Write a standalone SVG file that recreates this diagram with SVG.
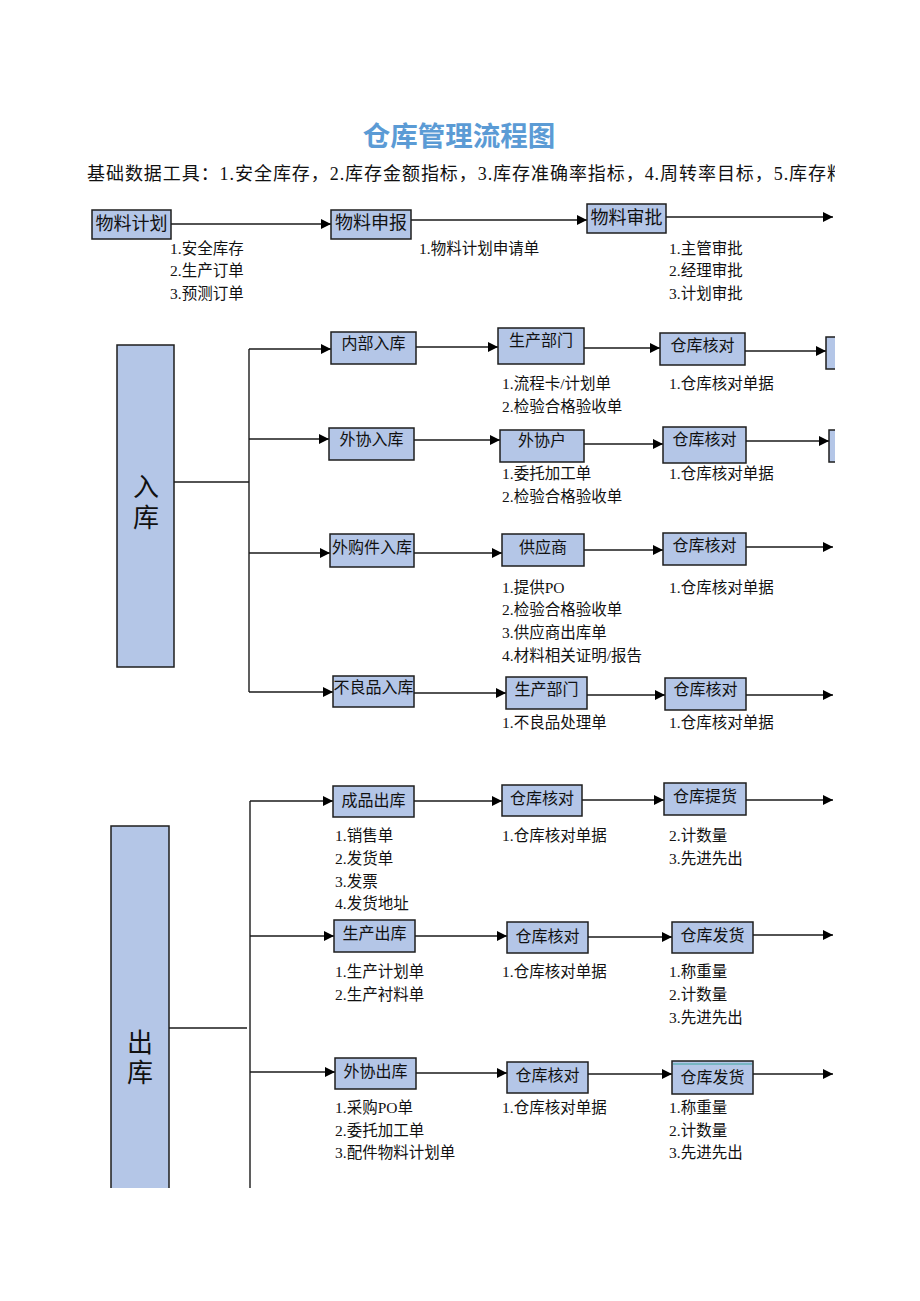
<svg xmlns="http://www.w3.org/2000/svg" width="920" height="1301" viewBox="0 0 920 1301">
<defs>
<style>
.bx{fill:#b4c6e7;stroke:#1e1e1e;stroke-width:1.5}
.bt{font-family:"Liberation Serif","Noto Sans CJK SC",serif;font-size:16px;fill:#111;text-anchor:middle;dominant-baseline:central}
.bt18{font-size:18px}
.lb{font-family:"Liberation Serif","Noto Sans CJK SC",serif;font-size:15.5px;fill:#111;dominant-baseline:central}
.ln{stroke:#1a1a1a;stroke-width:1.4;fill:none}
.ar{stroke:#1a1a1a;stroke-width:1.4;fill:none;marker-end:url(#ah)}
.big{font-family:"Liberation Serif","Noto Sans CJK SC",serif;font-size:26px;fill:#111;text-anchor:middle;dominant-baseline:central}
</style>
<marker id="ah" viewBox="0 0 10 10" refX="10" refY="5" markerWidth="10" markerHeight="10" markerUnits="userSpaceOnUse" orient="auto">
<path d="M0,0 L10,5 L0,10 z" fill="#000"/>
</marker>
<clipPath id="cl"><rect x="0" y="0" width="835" height="1188"/></clipPath>
</defs>
<rect width="920" height="1301" fill="#fff"/>
<g clip-path="url(#cl)">
<text x="459" y="134" font-family="'Noto Sans CJK SC','Noto Sans',sans-serif" font-size="27.5" font-weight="bold" fill="#5b9bd5" text-anchor="middle" dominant-baseline="central">仓库管理流程图</text>
<text x="87" y="174" font-family="'Liberation Serif','Noto Sans CJK SC',serif" font-size="18" fill="#111" dominant-baseline="central" textLength="758" lengthAdjust="spacing">基础数据工具：1.安全库存，2.库存金额指标，3.库存准确率指标，4.周转率目标，5.库存料</text>

<g id="connectors">
<line class="ar" x1="171" y1="224" x2="331" y2="224"/>
<line class="ar" x1="411" y1="220" x2="587" y2="220"/>
<line class="ar" x1="666" y1="217" x2="833" y2="217"/>

<line class="ln" x1="174" y1="482" x2="249" y2="482"/>
<line class="ln" x1="249" y1="349" x2="249" y2="692"/>
<line class="ar" x1="249" y1="349" x2="331" y2="349"/>
<line class="ar" x1="249" y1="439" x2="329" y2="439"/>
<line class="ar" x1="249" y1="553" x2="330" y2="553"/>
<line class="ar" x1="249" y1="692" x2="333" y2="692"/>

<line class="ar" x1="416" y1="347" x2="498" y2="347"/>
<line class="ar" x1="584" y1="348" x2="660" y2="348"/>
<line class="ar" x1="745" y1="351" x2="826" y2="351"/>
<line class="ar" x1="414" y1="440" x2="500" y2="440"/>
<line class="ar" x1="584" y1="444" x2="663" y2="444"/>
<line class="ar" x1="746" y1="441" x2="829" y2="441"/>
<line class="ar" x1="414" y1="553" x2="502" y2="553"/>
<line class="ar" x1="584" y1="550" x2="663" y2="550"/>
<line class="ar" x1="746" y1="547" x2="833" y2="547"/>
<line class="ar" x1="414" y1="693" x2="506" y2="693"/>
<line class="ar" x1="587" y1="695" x2="665" y2="695"/>
<line class="ar" x1="746" y1="695" x2="833" y2="695"/>

<line class="ln" x1="169" y1="1028" x2="247" y2="1028"/>
<line class="ln" x1="250" y1="801" x2="250" y2="1190"/>
<line class="ar" x1="250" y1="801" x2="333" y2="801"/>
<line class="ar" x1="250" y1="936" x2="334" y2="936"/>
<line class="ar" x1="250" y1="1072" x2="335" y2="1072"/>

<line class="ar" x1="414" y1="801" x2="502" y2="801"/>
<line class="ar" x1="582" y1="800" x2="664" y2="800"/>
<line class="ar" x1="746" y1="800" x2="833" y2="800"/>
<line class="ar" x1="415" y1="936" x2="507" y2="936"/>
<line class="ar" x1="588" y1="937" x2="672" y2="937"/>
<line class="ar" x1="753" y1="935" x2="833" y2="935"/>
<line class="ar" x1="416" y1="1073" x2="507" y2="1073"/>
<line class="ar" x1="588" y1="1074" x2="672" y2="1074"/>
<line class="ar" x1="753" y1="1074" x2="833" y2="1074"/>
</g>

<g id="n-plan"><rect class="bx" x="92" y="210" width="79" height="29"/><text class="bt bt18" x="131.5" y="224">物料计划</text></g>
<g id="n-report"><rect class="bx" x="331" y="210" width="80" height="29"/><text class="bt bt18" x="371" y="223">物料申报</text></g>
<g id="n-approve"><rect class="bx" x="587" y="204" width="79" height="29"/><text class="bt bt18" x="626.5" y="218">物料审批</text></g>

<g id="n-in"><rect class="bx" x="117" y="345" width="57" height="322"/><text class="big" x="146" y="487">入</text><text class="big" x="146" y="518">库</text></g>

<g id="n-in1a"><rect class="bx" x="331" y="332" width="85" height="32"/><text class="bt" x="373.5" y="343">内部入库</text></g>
<g id="n-in1b"><rect class="bx" x="498" y="328" width="86" height="36"/><text class="bt" x="541" y="340">生产部门</text></g>
<g id="n-in1c"><rect class="bx" x="660" y="333" width="85" height="32"/><text class="bt" x="702.5" y="345">仓库核对</text></g>
<g id="n-in1d"><rect class="bx" x="826" y="337" width="20" height="32"/></g>

<g id="n-in2a"><rect class="bx" x="329" y="428" width="85" height="32"/><text class="bt" x="371.5" y="439">外协入库</text></g>
<g id="n-in2b"><rect class="bx" x="500" y="430" width="84" height="32"/><text class="bt" x="542" y="440">外协户</text></g>
<g id="n-in2c"><rect class="bx" x="663" y="427" width="83" height="36"/><text class="bt" x="704.5" y="439">仓库核对</text></g>
<g id="n-in2d"><rect class="bx" x="829" y="430" width="20" height="32"/></g>

<g id="n-in3a"><rect class="bx" x="330" y="534" width="84" height="33"/><text class="bt" x="372" y="547">外购件入库</text></g>
<g id="n-in3b"><rect class="bx" x="502" y="534" width="82" height="32"/><text class="bt" x="543" y="547">供应商</text></g>
<g id="n-in3c"><rect class="bx" x="663" y="533" width="83" height="32"/><text class="bt" x="704.5" y="545">仓库核对</text></g>

<g id="n-in4a"><rect class="bx" x="333" y="676" width="81" height="31"/><text class="bt" x="373.5" y="687">不良品入库</text></g>
<g id="n-in4b"><rect class="bx" x="506" y="677" width="81" height="32"/><text class="bt" x="546.5" y="689">生产部门</text></g>
<g id="n-in4c"><rect class="bx" x="665" y="678" width="81" height="32"/><text class="bt" x="705.5" y="689">仓库核对</text></g>

<g id="n-out"><rect class="bx" x="111" y="826" width="58" height="380"/><text class="big" x="140" y="1043">出</text><text class="big" x="140" y="1073">库</text></g>

<g id="n-out1a"><rect class="bx" x="333" y="786" width="81" height="31"/><text class="bt" x="373.5" y="800">成品出库</text></g>
<g id="n-out1b"><rect class="bx" x="502" y="785" width="80" height="31"/><text class="bt" x="542" y="798">仓库核对</text></g>
<g id="n-out1c"><rect class="bx" x="664" y="783" width="82" height="32"/><text class="bt" x="705" y="796">仓库提货</text></g>

<g id="n-out2a"><rect class="bx" x="334" y="920" width="81" height="32"/><text class="bt" x="374.5" y="933">生产出库</text></g>
<g id="n-out2b"><rect class="bx" x="507" y="922" width="81" height="31"/><text class="bt" x="547.5" y="936">仓库核对</text></g>
<g id="n-out2c"><rect class="bx" x="672" y="922" width="81" height="31"/><text class="bt" x="712.5" y="935">仓库发货</text></g>

<g id="n-out3a"><rect class="bx" x="335" y="1058" width="81" height="31"/><text class="bt" x="375.5" y="1071">外协出库</text></g>
<g id="n-out3b"><rect class="bx" x="507" y="1062" width="81" height="31"/><text class="bt" x="547.5" y="1075">仓库核对</text></g>
<g id="n-out3c"><rect class="bx" x="672" y="1061" width="81" height="33"/><line x1="673" y1="1064" x2="752" y2="1064" stroke="#3aa6a0" stroke-width="1"/><text class="bt" x="712.5" y="1077">仓库发货</text></g>

<g id="labels">
<text class="lb" x="170" y="248">1.安全库存</text>
<text class="lb" x="170" y="270">2.生产订单</text>
<text class="lb" x="170" y="293">3.预测订单</text>
<text class="lb" x="419" y="248">1.物料计划申请单</text>
<text class="lb" x="669" y="248">1.主管审批</text>
<text class="lb" x="669" y="270">2.经理审批</text>
<text class="lb" x="669" y="293">3.计划审批</text>

<text class="lb" x="502" y="383">1.流程卡/计划单</text>
<text class="lb" x="502" y="406">2.检验合格验收单</text>
<text class="lb" x="669" y="383">1.仓库核对单据</text>
<text class="lb" x="502" y="473">1.委托加工单</text>
<text class="lb" x="502" y="496">2.检验合格验收单</text>
<text class="lb" x="669" y="473">1.仓库核对单据</text>
<text class="lb" x="502" y="587">1.提供PO</text>
<text class="lb" x="502" y="609">2.检验合格验收单</text>
<text class="lb" x="502" y="632">3.供应商出库单</text>
<text class="lb" x="502" y="655">4.材料相关证明/报告</text>
<text class="lb" x="669" y="587">1.仓库核对单据</text>
<text class="lb" x="502" y="722">1.不良品处理单</text>
<text class="lb" x="669" y="722">1.仓库核对单据</text>

<text class="lb" x="335" y="835">1.销售单</text>
<text class="lb" x="335" y="858">2.发货单</text>
<text class="lb" x="335" y="881">3.发票</text>
<text class="lb" x="335" y="903">4.发货地址</text>
<text class="lb" x="502" y="835">1.仓库核对单据</text>
<text class="lb" x="669" y="835">2.计数量</text>
<text class="lb" x="669" y="858">3.先进先出</text>

<text class="lb" x="335" y="971">1.生产计划单</text>
<text class="lb" x="335" y="994">2.生产衬料单</text>
<text class="lb" x="502" y="971">1.仓库核对单据</text>
<text class="lb" x="669" y="971">1.称重量</text>
<text class="lb" x="669" y="994">2.计数量</text>
<text class="lb" x="669" y="1017">3.先进先出</text>

<text class="lb" x="335" y="1107">1.采购PO单</text>
<text class="lb" x="335" y="1130">2.委托加工单</text>
<text class="lb" x="335" y="1152">3.配件物料计划单</text>
<text class="lb" x="502" y="1107">1.仓库核对单据</text>
<text class="lb" x="669" y="1107">1.称重量</text>
<text class="lb" x="669" y="1130">2.计数量</text>
<text class="lb" x="669" y="1152">3.先进先出</text>
</g>
</g>
</svg>
